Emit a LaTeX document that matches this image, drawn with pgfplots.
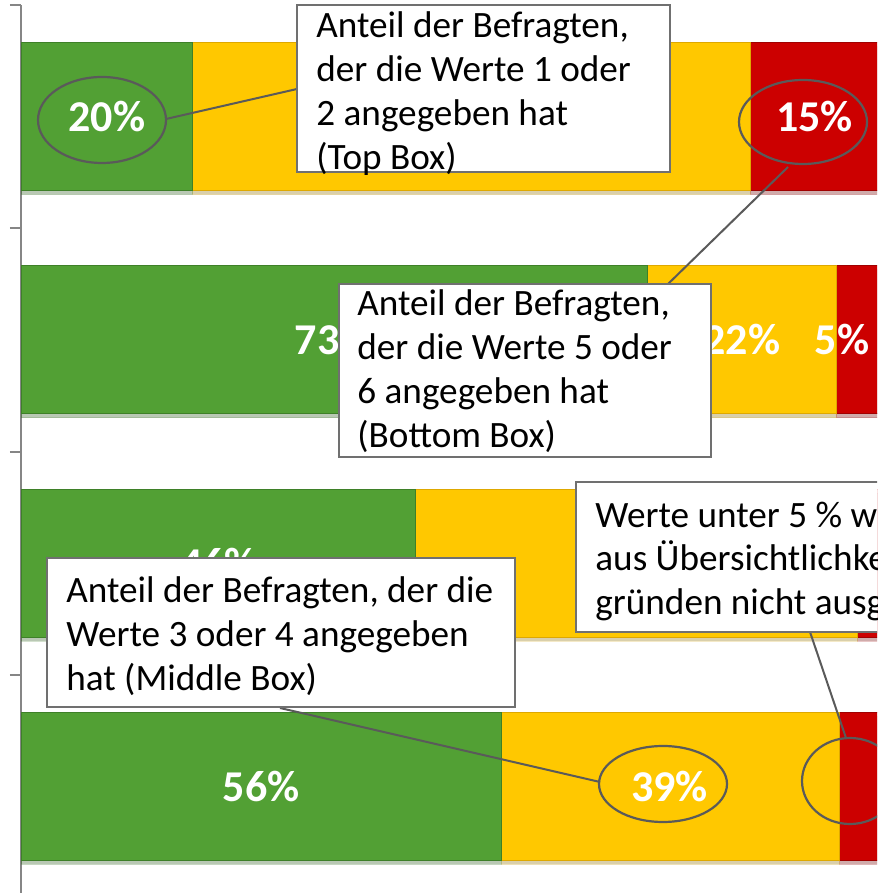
\documentclass[border=0pt]{standalone}
\usepackage{pgfplots}
\pgfplotsset{compat=1.18}
\usepackage{pgfplotstable}
\usepackage{fontspec}
\setmainfont{Carlito}
\usetikzlibrary{shadows}

\definecolor{gmain}{RGB}{82,160,52}
\definecolor{glight}{RGB}{150,222,112}
\definecolor{gdark}{RGB}{62,128,40}
\definecolor{ymain}{RGB}{255,200,0}
\definecolor{ylight}{RGB}{255,240,80}
\definecolor{ydark}{RGB}{222,168,0}
\definecolor{rmain}{RGB}{204,0,0}
\definecolor{rlight}{RGB}{242,80,80}
\definecolor{rdark}{RGB}{160,0,0}
\definecolor{boxgray}{RGB}{112,112,112}
\definecolor{ellgray}{RGB}{90,90,90}
\definecolor{axgray}{RGB}{134,134,134}

\pgfdeclareverticalshading{gbar}{100bp}{color(0bp)=(gdark); color(2.5bp)=(gmain); color(92bp)=(gmain); color(97bp)=(glight); color(100bp)=(glight)}
\pgfdeclareverticalshading{ybar}{100bp}{color(0bp)=(ydark); color(2.5bp)=(ymain); color(92bp)=(ymain); color(97bp)=(ylight); color(100bp)=(ylight)}
\pgfdeclareverticalshading{rbar}{100bp}{color(0bp)=(rdark); color(2.5bp)=(rmain); color(92bp)=(rmain); color(97bp)=(rlight); color(100bp)=(rlight)}

\pgfplotstableread{
y green yellow red
1 20 65 15
2 73 22 5
3 46 51.5 2.5
4 56 39.4 4.6
}\shares

\pgfplotstableread{
x y lab
10 1 20
52.5 1 65
92.5 1 15
36.4 2 73
84 2 22
95.7 2 5
23 3 46
72 3 52
28 4 56
75.6 4 39
}\labels

\tikzset{barshadow/.style={drop shadow={shadow xshift=0pt, shadow yshift=-2pt, opacity=0.18, fill=black}}}
\pgfplotsset{frame/.style={
  at={(10.5pt,-2.5pt)}, anchor=south west,
  width=429pt, height=446.5pt, scale only axis,
  xmin=0, xmax=100, ymin=0.5, ymax=4.5, y dir=reverse}}

\begin{document}
\begin{tikzpicture}
\useasboundingbox (0,0) rectangle (438.5pt,446.5pt);
\begin{scope}
\clip (0,0) rectangle (438.5pt,446.5pt);
\begin{axis}[frame,
  xbar stacked, bar width=74pt,
  axis x line=none,
  axis y line*=left,
  ytick={0.5,1.5,2.5,3.5,4.5}, yticklabels={},
  tick align=outside, major tick length=5.5pt,
  y axis line style={axgray, line width=1pt},
  ytick style={axgray, line width=1pt},
]
\addplot[barshadow, shade, shading=gbar, draw=gdark, line width=0.5pt] table[x=green,y=y]{\shares};
\addplot[barshadow, shade, shading=ybar, draw=ydark, line width=0.5pt] table[x=yellow,y=y]{\shares};
\addplot[barshadow, shade, shading=rbar, draw=rdark, line width=0.5pt] table[x=red,y=y]{\shares};
\end{axis}
\begin{axis}[frame, hide axis]
\addplot[only marks, mark=none,
  point meta=explicit symbolic,
  nodes near coords={\pgfplotspointmeta\%},
  every node near coord/.append style={anchor=center, text=white, inner sep=0pt,
    font=\fontsize{22}{24}\selectfont\bfseries}]
  table[x=x,y=y,meta=lab]{\labels};
\end{axis}

\begin{scope}[x=0.5pt,y=-0.5pt,yshift=446.5pt]
  % callout lines
  \draw[ellgray, line width=1pt] (166,119) -- (297,89);
  \draw[ellgray, line width=1pt] (788,167) -- (668,284);
  \draw[ellgray, line width=1pt] (280,708) -- (600,782);
  \draw[ellgray, line width=1pt] (810,632) -- (846,738);
  % ellipses
  \draw[ellgray, line width=1.1pt] (102,120) ellipse [x radius=64, y radius=43];
  \draw[ellgray, line width=1.1pt] (803,122) ellipse [x radius=64, y radius=42];
  \draw[ellgray, line width=1.1pt] (663,784) ellipse [x radius=64, y radius=38];
  \draw[ellgray, line width=1.1pt] (850,781) ellipse [x radius=48, y radius=43];
  % boxes
  \draw[boxgray, line width=1pt, fill=white] (297,5) rectangle (670,172);
  \draw[boxgray, line width=1pt, fill=white] (339,284) rectangle (711,457);
  \draw[boxgray, line width=1pt, fill=white] (47,558) rectangle (515,707);
  \draw[boxgray, line width=1pt, fill=white] (576,482) rectangle (990,632);
  \tikzset{bt/.style={anchor=base west, inner sep=0pt, font=\fontsize{18.6}{22}\selectfont}}
  \node[bt] at (316,38) {Anteil der Befragten,};
  \node[bt] at (316,82) {der die Werte 1 oder};
  \node[bt] at (316,126) {2 angegeben hat};
  \node[bt] at (316,170) {(Top Box)};
  \node[bt] at (357,316) {Anteil der Befragten,};
  \node[bt] at (357,360) {der die Werte 5 oder};
  \node[bt] at (357,404) {6 angegeben hat};
  \node[bt] at (357,448) {(Bottom Box)};
  \node[bt] at (66,603) {Anteil der Befragten, der die};
  \node[bt] at (66,647) {Werte 3 oder 4 angegeben};
  \node[bt] at (66,691) {hat (Middle Box)};
  \node[bt] at (595,528) {Werte unter 5 \% werden};
  \node[bt] at (595,571) {aus Übersichtlichkeits-};
  \node[bt] at (595,615) {gründen nicht ausgewiesen};
\end{scope}
\end{scope}
\end{tikzpicture}
\end{document}
